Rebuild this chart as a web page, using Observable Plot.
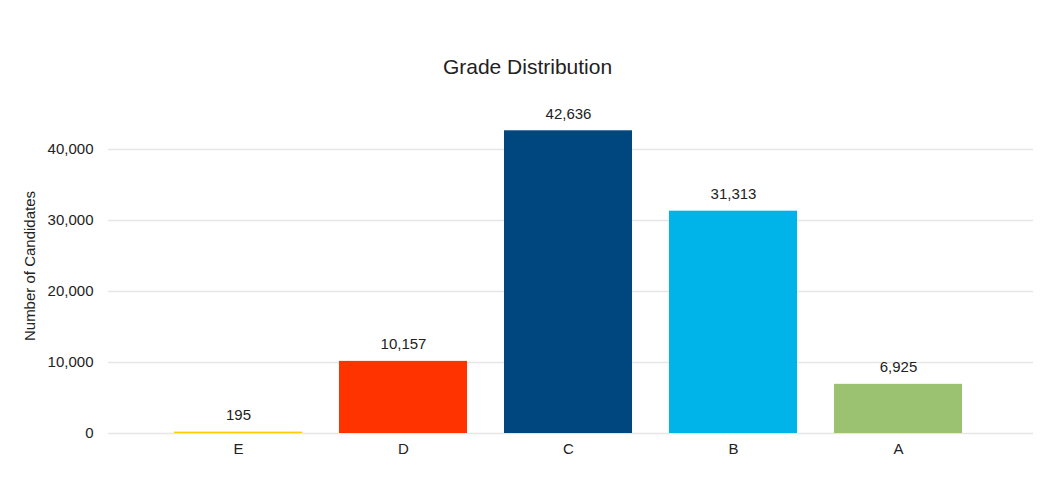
<!DOCTYPE html>
<html>
<head>
<meta charset="utf-8">
<script src="https://cdn.jsdelivr.net/npm/d3@7"></script>
<script src="https://cdn.jsdelivr.net/npm/@observablehq/plot@0.6"></script>
<style>
  html, body { margin: 0; padding: 0; background: #fff; }
  #wrap { position: relative; width: 1062px; height: 478px; font-family: "Liberation Sans", Arial, sans-serif; }
  #title { position: absolute; left: 0; width: 1055px; top: 55px; text-align: center; font-size: 21px; color: #222; }
  #ylabel { position: absolute; left: 29px; top: 266px; transform: translate(-50%, -50%) rotate(-90deg); font-size: 15px; color: #222; white-space: nowrap; }
</style>
</head>
<body>
<div id="wrap">
  <div id="chart"></div>
  <div id="title">Grade Distribution</div>
  <div id="ylabel">Number of Candidates</div>
</div>
<script>
const grades = ["E", "D", "C", "B", "A"];
const counts = [195, 10157, 42636, 31313, 6925];
const barColors = ["#FFCC00", "#FF3300", "#00467F", "#00B4EA", "#9BC271"];
const yTicks = [0, 10000, 20000, 30000, 40000];

const data = grades.map((g, i) => ({grade: g, count: counts[i]}));
const fmt = d3.format(",");

const chart = Plot.plot({
  width: 1062,
  height: 478,
  marginLeft: 174,
  marginRight: 100,
  marginTop: 149,
  marginBottom: 45,
  style: {fontFamily: "Liberation Sans, Arial, sans-serif", color: "#222", background: "#fff"},
  x: {domain: grades, paddingInner: 0.224, paddingOuter: 0, round: false},
  y: {domain: [0, 40000]},
  color: {domain: grades, range: barColors},
  marks: [
    Plot.ruleY(yTicks, {stroke: "#e6e6e6", strokeWidth: 1.5, insetLeft: -66, insetRight: -71}),
    Plot.barY(data, {x: "grade", y: "count", fill: "grade"}),
    Plot.text(data, {x: "grade", y: "count", text: d => fmt(d.count), dy: -17, fontSize: 15, fill: "#222"}),
    Plot.axisY({ticks: yTicks, tickFormat: d => fmt(d), tickSize: 0, tickPadding: 81, fontSize: 15, label: null}),
    Plot.axisX({tickSize: 0, tickPadding: 10, fontSize: 15, label: null})
  ]
});
document.getElementById("chart").appendChild(chart);
</script>
</body>
</html>
